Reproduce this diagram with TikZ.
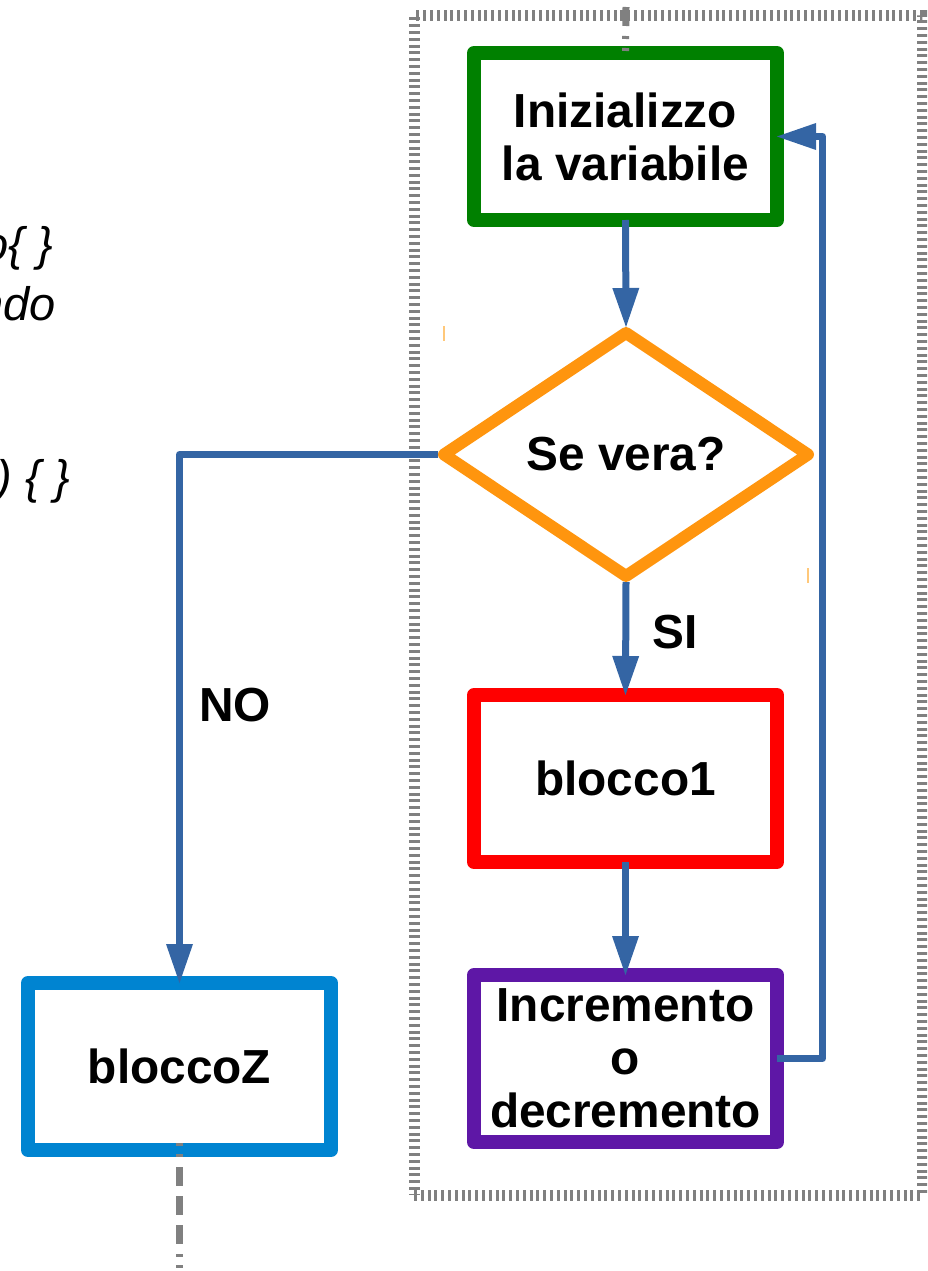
\documentclass[tikz,border=0pt]{standalone}
\usepackage{fontspec}
\setmainfont{Liberation Sans}
\usetikzlibrary{arrows.meta,shapes.geometric}
\definecolor{cgreen}{RGB}{0,128,0}
\definecolor{corange}{RGB}{255,149,14}
\definecolor{cred}{RGB}{255,0,0}
\definecolor{cpurple}{RGB}{94,23,166}
\definecolor{cbluebox}{RGB}{0,132,209}
\definecolor{cconn}{RGB}{52,101,164}
\definecolor{cgray}{RGB}{128,128,128}
\definecolor{ctick}{RGB}{255,200,122}
\begin{document}
\begin{tikzpicture}[x=1pt,y=-1pt,
  bigfont/.style={font=\fontsize{47.8}{53}\selectfont\bfseries},
  box/.style={draw, line width=14pt, line join=round, fill=white,
    minimum width=303pt, minimum height=167pt, inner sep=0pt, outer sep=0pt,
    align=center, bigfont},
  dia/.style={diamond, draw=corange, line width=12pt, line join=round, fill=white,
    minimum width=364pt, minimum height=243pt, inner sep=0pt, outer sep=0pt, bigfont},
  conn/.style={draw=cconn, line width=7pt, line join=round,
    -{Triangle[length=39pt,width=27pt,line width=0pt]}},
  lbl/.style={bigfont, inner sep=0pt, anchor=base},
  lfrag/.style={font=\fontsize{47}{53}\selectfont\itshape, inner sep=0pt, anchor=base east},
  framebox/.style={draw=cgray, line width=11pt, dash pattern=on 3pt off 3.8pt,
    minimum width=508pt, minimum height=1179pt, inner sep=0pt, outer sep=0pt},
  gdashtop/.style={draw=cgray, line width=7pt,
    dash pattern=on 19pt off 10pt on 3pt off 9pt on 3pt off 10pt},
  gdashbot/.style={draw=cgray, line width=7pt,
    dash pattern=on 3pt off 8pt on 3pt off 10pt on 19pt off 10pt on 19pt off 10pt on 19pt off 10pt},
  otick/.style={draw=ctick, line width=2pt}
]
\path[use as bounding box, clip] (0,0) rectangle (927,1271);

% dotted container
\node[framebox] (fr) at (668,605.5) {};

% clipped italic text fragments on the left
\node[lfrag] (t1) at (53,260) {o\{ \}};
\node[lfrag] (t2) at (56,320) {ndo};
\node[lfrag] (t3) at (70,493.5) {) \{ \}};

% shapes
\node[box, draw=cgreen] (g) at (625.5,136.5) {Inizializzo\\la variabile};
\node[dia] (d) at (626,454.5) {Se vera?};
\node[box, draw=cred] (r) at (625.5,778.5) {blocco1};
\node[box, draw=cpurple] (p) at (625.5,1058.5) {Incremento\\o\\decremento};
\node[box, draw=cbluebox] (z) at (179.5,1066.5) {bloccoZ};

% small orange marks
\draw[otick] (444,326) -- (444,341);
\draw[otick] (808,568) -- (808,583);

% gray dashed in / out lines
\coordinate (topin) at (626,7);
\coordinate (botout) at (179.5,1285);
\draw[gdashtop] (topin) -- (g.north);
\draw[gdashbot] ([yshift=7pt]z.south) -- (botout);

% connectors
\draw[conn] (g.south) -- ([yshift=6pt]d.north);
\draw[conn] ([yshift=-6pt]d.south) -- (r.north);
\draw[conn] (r.south) -- (p.north);
\coordinate (loopx) at (822.5,0);
\draw[conn] (p.east) -- (p.east -| loopx) -- (g.east -| loopx) -- (g.east);
\draw[conn] ([xshift=-6pt]d.west) -| (z.north);

% labels
\node[lbl] (si) at (675,648) {SI};
\node[lbl] (no) at (235,721) {NO};
\end{tikzpicture}
\end{document}
